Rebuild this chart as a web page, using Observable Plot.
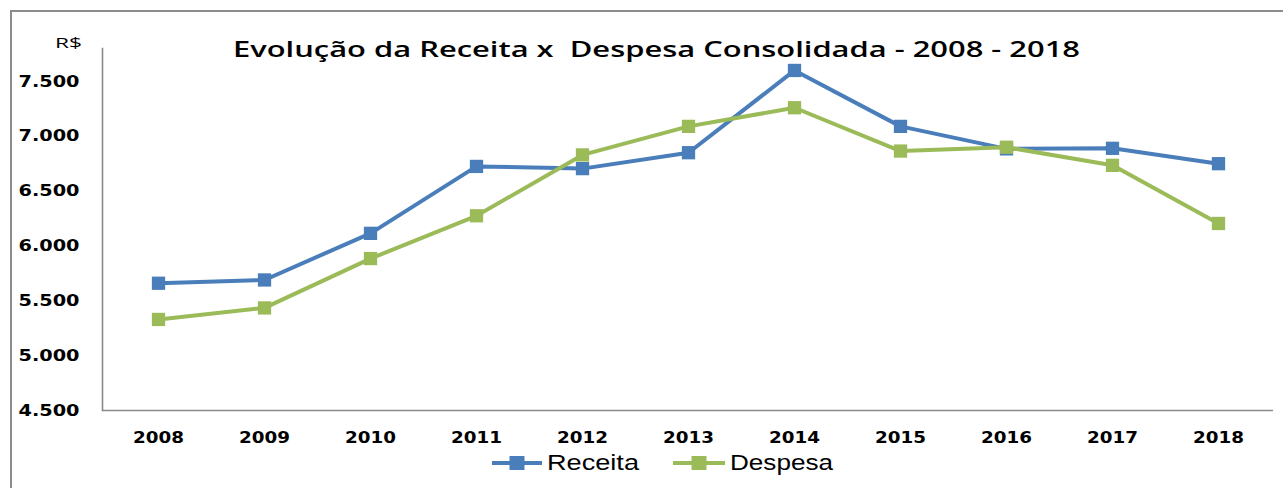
<!DOCTYPE html>
<html>
<head>
<meta charset="utf-8">
<script src="https://cdn.jsdelivr.net/npm/d3@7"></script>
<script src="https://cdn.jsdelivr.net/npm/@observablehq/plot@0.6"></script>
<style>
  html, body { margin: 0; padding: 0; background: #fff; width: 1283px; height: 488px; overflow: hidden; }
  #wrap { position: relative; width: 1283px; height: 488px; }
  #chart, #overlay { position: absolute; left: 0; top: 0; }
  #overlay { pointer-events: none; }
</style>
</head>
<body>
<div id="wrap">
  <div id="chart"></div>
  <svg id="overlay" width="1283" height="488" xmlns="http://www.w3.org/2000/svg"></svg>
</div>
<script>
// ---- data ----
const years = ["2008", "2009", "2010", "2011", "2012", "2013", "2014", "2015", "2016", "2017", "2018"];
const receita = [5660, 5690, 6115, 6725, 6705, 6850, 7600, 7090, 6885, 6890, 6750];
const despesa = [5330, 5435, 5885, 6275, 6830, 7090, 7260, 6865, 6900, 6735, 6205];
const yTicks = [4500, 5000, 5500, 6000, 6500, 7000, 7500];
const seriesNames = ["Receita", "Despesa"];
const seriesColors = ["#4A7EBB", "#9BBB59"];
const titleText = "Evolução da Receita x  Despesa Consolidada - 2008 - 2018";
const unitText = "R$";

const recRows = years.map((yr, i) => ({year: yr, value: receita[i], serie: seriesNames[0]}));
const despRows = years.map((yr, i) => ({year: yr, value: despesa[i], serie: seriesNames[1]}));

const fmt = d => d3.format(",")(d).replace(/,/g, ".");

const chart = Plot.plot({
  width: 1283,
  height: 488,
  marginLeft: 102,
  marginRight: 10,
  marginTop: 48,
  marginBottom: 78,
  style: {fontFamily: "DejaVu Sans", background: "transparent", color: "#000"},
  x: {type: "point", domain: years, padding: 0.5, label: null},
  y: {domain: [4500, 7800], label: null},
  marks: [
    Plot.axisY(yTicks, {tickSize: 0, tickPadding: 23, tickFormat: fmt, fontSize: 16, fontWeight: "bold", fill: "#000"}),
    Plot.axisX({tickSize: 0, tickPadding: 21, fontSize: 16.5, fontWeight: "bold", fill: "#000"}),
    Plot.ruleY([4500], {stroke: "#8a8a8a", strokeWidth: 1.6}),
    Plot.frame({anchor: "left", stroke: "#8a8a8a", strokeWidth: 1.6}),
    Plot.line(recRows, {x: "year", y: "value", stroke: seriesColors[0], strokeWidth: 4, strokeLinejoin: "round"}),
    Plot.dot(recRows, {x: "year", y: "value", symbol: "square", r: 7.5, fill: seriesColors[0], stroke: "none"}),
    Plot.line(despRows, {x: "year", y: "value", stroke: seriesColors[1], strokeWidth: 4, strokeLinejoin: "round"}),
    Plot.dot(despRows, {x: "year", y: "value", symbol: "square", r: 7.5, fill: seriesColors[1], stroke: "none"})
  ]
});
document.getElementById("chart").appendChild(chart);

// stretch tick labels horizontally like the reference
d3.select(chart).selectAll('g[aria-label="y-axis tick label"] text')
  .attr("textLength", 61).attr("lengthAdjust", "spacingAndGlyphs");
d3.select(chart).selectAll('g[aria-label="x-axis tick label"] text')
  .attr("textLength", 51).attr("lengthAdjust", "spacingAndGlyphs");

// ---- overlay: border, title, unit, legend ----
const ov = d3.select("#overlay");
ov.append("line").attr("x1", 11).attr("y1", 11).attr("x2", 1283).attr("y2", 11)
  .attr("stroke", "#8c8c8c").attr("stroke-width", 2);
ov.append("line").attr("x1", 11).attr("y1", 10).attr("x2", 11).attr("y2", 488)
  .attr("stroke", "#8c8c8c").attr("stroke-width", 2);

ov.append("text").attr("x", 233).attr("y", 57)
  .attr("font-family", "Open Sans").attr("font-weight", 600).attr("font-size", 21.5)
  .attr("textLength", 847).attr("lengthAdjust", "spacingAndGlyphs")
  .style("white-space", "pre").attr("xml:space", "preserve")
  .text(titleText);

ov.append("text").attr("x", 55).attr("y", 48)
  .attr("font-family", "Open Sans").attr("font-size", 15)
  .attr("textLength", 27).attr("lengthAdjust", "spacingAndGlyphs")
  .text(unitText);

const legendItems = [
  {name: seriesNames[0], color: seriesColors[0], x1: 492, x2: 542, tx: 547, tw: 92},
  {name: seriesNames[1], color: seriesColors[1], x1: 673, x2: 725, tx: 730, tw: 103}
];
legendItems.forEach(it => {
  const cy = 463;
  ov.append("line").attr("x1", it.x1).attr("x2", it.x2).attr("y1", cy).attr("y2", cy)
    .attr("stroke", it.color).attr("stroke-width", 4);
  const cx = (it.x1 + it.x2) / 2;
  ov.append("rect").attr("x", cx - 7.5).attr("y", cy - 7).attr("width", 15).attr("height", 14)
    .attr("fill", it.color);
  ov.append("text").attr("x", it.tx).attr("y", 470)
    .attr("font-family", "Liberation Sans").attr("font-size", 22)
    .attr("textLength", it.tw).attr("lengthAdjust", "spacingAndGlyphs")
    .text(it.name);
});
</script>
</body>
</html>
